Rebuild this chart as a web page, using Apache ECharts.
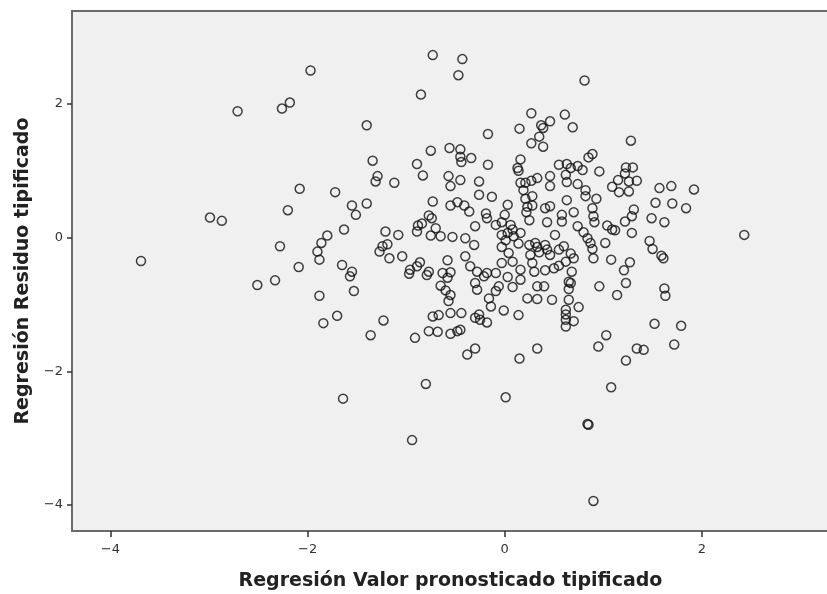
<!DOCTYPE html>
<html>
<head>
<meta charset="utf-8">
<script src="https://cdn.jsdelivr.net/npm/echarts@6/dist/echarts.min.js"></script>
<style>
html,body{margin:0;padding:0;background:#fff;}
#chart{width:827px;height:594px;}
</style>
</head>
<body>
<div id="chart"></div>
<script>
// Tick values shown on both axes
const xTicks = [-4, -2, 0, 2];
const yTicks = [-4, -2, 0, 2];

// Regresión Valor pronosticado tipificado (x)
const predicted = [
  -3.69,-2.99,-2.87,-2.51,-2.71,-1.97,-2.18,-2.26,
  -0.73,-0.85,-1.40,-0.75,-0.56,-1.34,-0.89,-0.83,-1.29,-1.31,-1.12,-0.57,-2.08,-1.72,-0.55,
  -0.43,-0.47,0.81,0.27,0.61,0.46,0.37,0.39,0.15,0.69,-0.17,0.35,
  0.27,0.39,1.28,-0.45,-0.45,-0.34,-0.44,-0.17,0.16,0.13,0.14,0.55,
  0.63,0.67,0.74,0.79,0.85,0.89,0.96,1.23,1.30,1.22,1.15,1.26,
  1.34,-0.26,-0.45,0.46,0.62,0.33,0.27,0.21,0.16,0.63,0.74,0.46,
  -2.20,-1.55,-1.51,-1.40,-1.63,-1.80,-1.86,-1.90,-1.88,-2.28,-2.09,-2.33,
  -1.65,-1.55,-1.57,-1.53,-1.88,-1.84,-1.70,-1.36,-1.23,-1.21,-1.08,-1.27,
  -1.24,-1.19,-1.17,-1.04,-0.73,-0.55,-0.77,-0.74,-0.88,-0.84,-0.89,-0.70,
  -0.75,-0.65,-0.53,-0.58,-0.63,-0.55,-0.58,-0.86,-0.89,-0.96,-0.97,-0.77,
  -0.79,-0.65,-0.60,-0.57,-0.55,-0.73,-0.67,-0.77,-0.68,-0.91,-0.55,-0.55,
  -1.64,-0.80,-0.94,1.08,0.01,0.85,0.84,0.90,
  1.57,1.69,1.92,1.53,1.70,1.84,1.49,1.62,2.43,1.47,1.50,1.59,1.61,1.62,1.63,1.52,1.79,1.72,1.41,
  0.19,0.28,0.82,0.82,0.93,1.09,1.16,1.26,-0.26,-0.13,-0.48,-0.41,
  0.03,0.21,0.63,1.31,-0.36,-0.19,0.23,0.28,0.22,0.25,0.41,0.46,
  0.43,0.70,0.58,0.58,0.89,0.90,0.91,1.29,1.22,0.00,-0.18,-0.30,
  -0.09,-0.03,0.06,0.08,-0.03,0.03,0.16,0.01,0.09,-0.40,-0.31,0.74,
  0.80,0.51,1.04,1.09,1.12,1.29,0.84,1.02,0.25,0.31,0.41,0.14,
  0.87,0.89,0.90,-0.03,0.04,0.33,0.26,0.35,0.43,0.46,0.55,0.60,
  0.67,0.70,-0.40,0.08,-0.03,1.08,1.27,0.28,0.41,0.30,0.50,0.55,
  0.62,0.68,1.21,-0.35,-0.28,-0.21,-0.18,-0.09,0.03,0.16,0.16,1.23,
  0.65,-0.30,-0.28,-0.06,-0.09,0.08,0.33,0.40,0.67,0.65,0.96,1.14,
  -0.16,0.23,0.33,0.48,0.65,-0.14,0.75,-0.01,0.62,0.62,0.14,-0.26,
  -0.30,-0.25,-0.18,-0.44,0.62,0.70,0.62,-0.48,-0.45,1.03,0.95,0.33,
  -0.30,-0.38,0.15,1.23,1.34
];

// Regresión Residuo tipificado (y)
const residual = [
  -0.35,0.30,0.25,-0.71,1.89,2.50,2.02,1.93,
  2.73,2.14,1.68,1.30,1.34,1.15,1.10,0.93,0.92,0.84,0.82,0.92,0.73,0.68,0.77,
  2.67,2.43,2.35,1.86,1.84,1.74,1.68,1.64,1.63,1.65,1.55,1.51,
  1.41,1.36,1.45,1.32,1.21,1.19,1.13,1.09,1.17,1.04,1.00,1.09,
  1.10,1.04,1.07,1.01,1.20,1.25,0.99,1.05,1.05,0.96,0.86,0.84,
  0.85,0.84,0.86,0.92,0.94,0.89,0.85,0.82,0.82,0.83,0.80,0.77,
  0.41,0.48,0.34,0.51,0.12,0.03,-0.08,-0.21,-0.33,-0.13,-0.44,-0.64,
  -0.41,-0.51,-0.58,-0.80,-0.87,-1.28,-1.17,-1.46,-1.24,0.09,0.04,-0.21,
  -0.13,-0.10,-0.31,-0.28,0.54,0.48,0.33,0.29,0.18,0.21,0.09,0.14,
  0.03,0.02,0.01,-0.34,-0.53,-0.52,-0.60,-0.37,-0.43,-0.48,-0.54,-0.51,
  -0.56,-0.72,-0.79,-0.95,-0.86,-1.18,-1.16,-1.40,-1.41,-1.50,-1.13,-1.44,
  -2.41,-2.19,-3.03,-2.24,-2.39,-2.80,-2.79,-3.94,
  0.74,0.77,0.72,0.52,0.51,0.44,0.29,0.23,0.04,-0.05,-0.17,-0.27,-0.31,-0.76,-0.87,-1.29,-1.32,-1.60,-1.68,
  0.71,0.62,0.71,0.62,0.58,0.76,0.68,0.69,0.64,0.61,0.53,0.48,
  0.49,0.58,0.56,0.42,0.39,0.36,0.46,0.48,0.38,0.26,0.44,0.47,
  0.23,0.38,0.34,0.24,0.44,0.32,0.23,0.32,0.24,0.34,0.29,0.17,
  0.19,0.23,0.19,0.12,0.04,0.07,0.07,-0.04,0.02,-0.01,-0.11,0.17,
  0.08,0.04,0.18,0.12,0.11,0.07,-0.01,-0.08,-0.11,-0.08,-0.11,-0.09,
  -0.08,-0.17,-0.31,-0.14,-0.23,-0.14,-0.26,-0.22,-0.18,-0.26,-0.18,-0.13,
  -0.24,-0.31,-0.28,-0.36,-0.38,-0.33,-0.37,-0.38,-0.49,-0.51,-0.46,-0.42,
  -0.36,-0.51,-0.49,-0.43,-0.51,-0.58,-0.53,-0.53,-0.59,-0.48,-0.63,-0.68,
  -0.66,-0.68,-0.78,-0.73,-0.80,-0.74,-0.73,-0.73,-0.68,-0.77,-0.73,-0.86,
  -0.91,-0.91,-0.92,-0.93,-0.93,-1.03,-1.04,-1.09,-1.08,-1.15,-1.16,-1.15,
  -1.20,-1.23,-1.27,-1.13,-1.23,-1.25,-1.33,-1.40,-1.38,-1.46,-1.63,-1.66,
  -1.66,-1.75,-1.81,-1.84,-1.66
];

const xTitle = 'Regresión Valor pronosticado tipificado';
const yTitle = 'Regresión Residuo tipificado';

const points = predicted.map((x, i) => [x, residual[i]]);
const fmt = v => String(v).replace('-', '\u2212');

const chart = echarts.init(document.getElementById('chart'), null, {renderer: 'canvas'});
chart.setOption({
  animation: false,
  backgroundColor: '#ffffff',
  grid: {
    left: 72, top: 11, right: -2, bottom: 63,
    containLabel: false, outerBoundsMode: 'none',
    show: true, backgroundColor: '#f0f0f0', borderColor: '#6a6a6a', borderWidth: 2
  },
  xAxis: {
    type: 'value', min: -4.39, max: 3.29,
    name: xTitle, nameLocation: 'middle', nameGap: 41,
    nameTextStyle: {fontFamily: 'DejaVu Sans', fontWeight: 'bold', fontSize: 19, color: '#222'},
    axisLine: {show: true, onZero: false, lineStyle: {color: '#6a6a6a', width: 2}},
    splitLine: {show: false},
    axisTick: {show: true, customValues: xTicks, length: 6, lineStyle: {color: '#333', width: 1.5}},
    axisLabel: {customValues: xTicks, formatter: fmt, margin: 12, fontFamily: 'DejaVu Sans', fontSize: 13, color: '#333'}
  },
  yAxis: {
    type: 'value', min: -4.39, max: 3.39,
    name: yTitle, nameLocation: 'middle', nameGap: 39,
    nameTextStyle: {fontFamily: 'DejaVu Sans', fontWeight: 'bold', fontSize: 19, color: '#222'},
    axisLine: {show: true, onZero: false, lineStyle: {color: '#6a6a6a', width: 2}},
    splitLine: {show: false},
    axisTick: {show: true, customValues: yTicks, length: 5, lineStyle: {color: '#333', width: 1.5}},
    axisLabel: {customValues: yTicks, formatter: fmt, margin: 9, fontFamily: 'DejaVu Sans', fontSize: 13, color: '#333'}
  },
  series: [{
    type: 'scatter',
    data: points,
    symbol: 'circle',
    symbolSize: 9,
    silent: true,
    itemStyle: {color: 'rgba(0,0,0,0)', borderColor: '#111', borderWidth: 1.5}
  }]
});
</script>
</body>
</html>
